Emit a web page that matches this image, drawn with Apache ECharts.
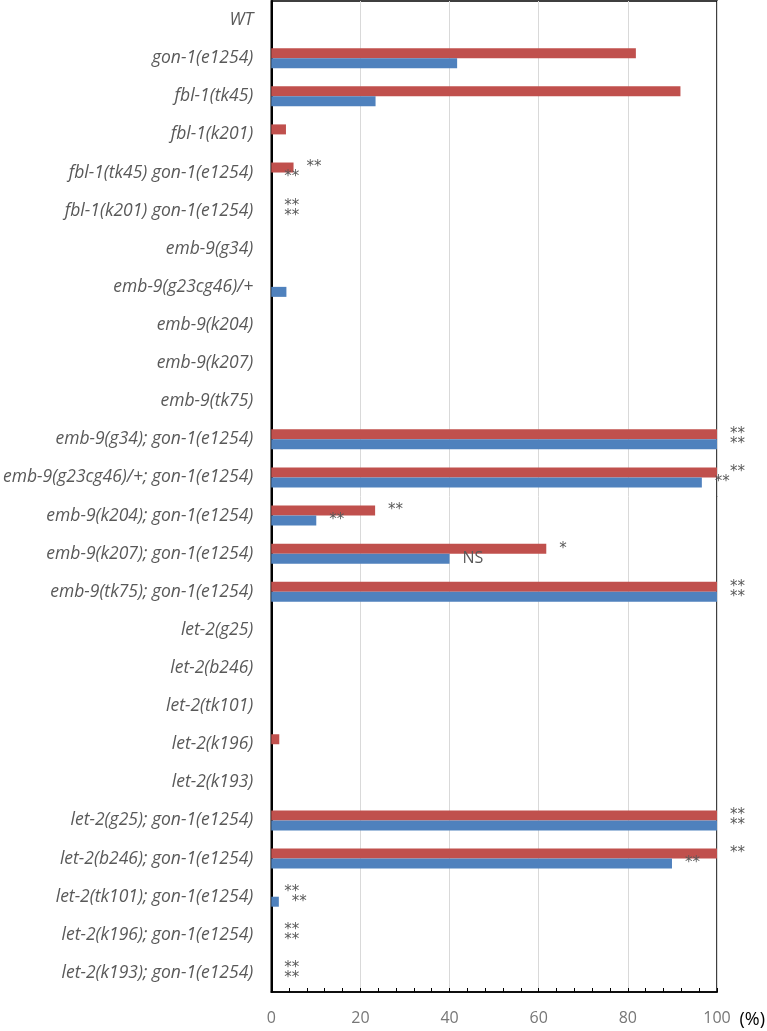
<!DOCTYPE html>
<html>
<head>
<meta charset="utf-8">
<script src="https://cdn.jsdelivr.net/npm/echarts@6/dist/echarts.min.js"></script>
<style>html,body{margin:0;padding:0;background:#fff;}#c{width:767px;height:1031px;}</style>
</head>
<body>
<div id="c"></div>
<script>
const categories = ['WT','gon-1(e1254)','fbl-1(tk45)','fbl-1(k201)','fbl-1(tk45) gon-1(e1254)','fbl-1(k201) gon-1(e1254)','emb-9(g34)','emb-9(g23cg46)/+','emb-9(k204)','emb-9(k207)','emb-9(tk75)','emb-9(g34); gon-1(e1254)','emb-9(g23cg46)/+; gon-1(e1254)','emb-9(k204); gon-1(e1254)','emb-9(k207); gon-1(e1254)','emb-9(tk75); gon-1(e1254)','let-2(g25)','let-2(b246)','let-2(tk101)','let-2(k196)','let-2(k193)','let-2(g25); gon-1(e1254)','let-2(b246); gon-1(e1254)','let-2(tk101); gon-1(e1254)','let-2(k196); gon-1(e1254)','let-2(k193); gon-1(e1254)'];
const redValues = [0,81.8,91.8,3.3,5,0,0,0,0,0,0,100,100,23.3,61.7,100,0,0,0,1.8,0,100,100,0,0,0];
const blueValues = [0,41.7,23.4,0,0,0,0,3.4,0,0,0,100,96.6,10.1,40,100,0,0,0,0,0,100,89.9,1.7,0,0];
const redMarks = ['','','','','**','**','','','','','','**','**','**','*','**','','','','','','**','**','**','**','**'];
const blueMarks = ['','','','','**','**','','','','','','**','**','**','NS','**','','','','','','**','**','**','**','**'];
const xTicks = [0,20,40,60,80,100];

function withMarks(values, marks) {
  return values.map((v, i) => ({
    value: v,
    label: {
      show: marks[i] !== '', formatter: marks[i],
      fontSize: marks[i] === 'NS' ? 16 : 15,
      fontFamily: marks[i] === 'NS' ? 'Open Sans' : 'DejaVu Sans'
    }
  }));
}

const chart = echarts.init(document.getElementById('c'));
const labelStyle = { position: 'right', distance: 13, color: '#595959' };
chart.setOption({
  animation: false,
  grid: { left: 270, right: 50, top: 1, bottom: 39, show: true, borderColor: '#000', borderWidth: 1.5, containLabel: false },
  xAxis: {
    type: 'value', min: xTicks[0], max: xTicks[xTicks.length - 1], interval: 20,
    axisLine: { show: true, lineStyle: { color: '#000', width: 1.5 } },
    axisTick: { show: true, inside: true, length: 4, lineStyle: { color: '#000' } },
    minorTick: { show: true, splitNumber: 5, length: 4, lineStyle: { color: '#000' } },
    splitLine: { show: true, lineStyle: { color: '#d9d9d9', width: 1 } },
    axisLabel: { color: '#777', fontFamily: 'Open Sans', fontSize: 16, margin: 18 }
  },
  yAxis: {
    type: 'category', data: categories, inverse: true,
    axisLine: { show: true, lineStyle: { color: '#000', width: 2 } },
    axisTick: { show: false },
    axisLabel: { color: '#595959', fontFamily: 'Open Sans', fontStyle: 'italic', fontSize: 17.5, margin: 18 }
  },
  series: [
    { name: 'red', type: 'bar', barWidth: 10, barGap: '0%', itemStyle: { color: '#c0504d' },
      label: labelStyle, data: withMarks(redValues, redMarks) },
    { name: 'blue', type: 'bar', barWidth: 10, barGap: '0%', itemStyle: { color: '#4f81bd' },
      label: labelStyle, data: withMarks(blueValues, blueMarks) }
  ],
  graphic: [
    { type: 'text', right: 2, bottom: 2, style: { text: '(%)', fill: '#000', font: '18px "Open Sans"' } }
  ]
});
</script>
</body>
</html>
